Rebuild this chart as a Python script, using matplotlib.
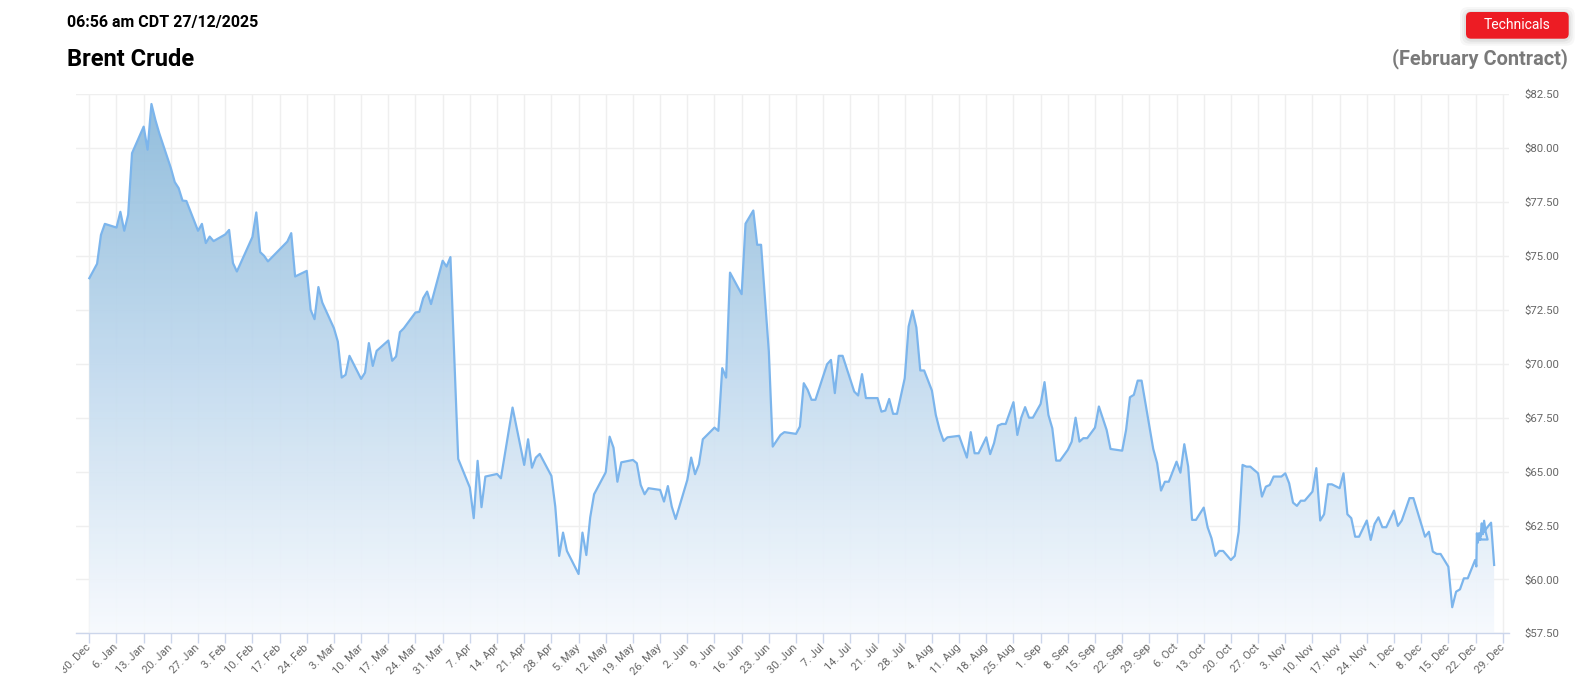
import numpy as np
import pandas as pd
import matplotlib
matplotlib.use("Agg")
import matplotlib.pyplot as plt
import matplotlib.dates as mdates
from matplotlib.patches import FancyBboxPatch, Polygon
from matplotlib.colors import LinearSegmentedColormap
from matplotlib.transforms import IdentityTransform, Bbox

plt.rcParams['font.family'] = ['Roboto', 'DejaVu Sans']

# Brent crude, February contract
dates = [
    "2024-12-30", "2025-01-01", "2025-01-02", "2025-01-03", "2025-01-06", "2025-01-07",
    "2025-01-08", "2025-01-09", "2025-01-10", "2025-01-13", "2025-01-14", "2025-01-15",
    "2025-01-16", "2025-01-17", "2025-01-20", "2025-01-21", "2025-01-22", "2025-01-23",
    "2025-01-24", "2025-01-27", "2025-01-28", "2025-01-29", "2025-01-30", "2025-01-31",
    "2025-02-03", "2025-02-04", "2025-02-05", "2025-02-06", "2025-02-10", "2025-02-11",
    "2025-02-12", "2025-02-13", "2025-02-14", "2025-02-19", "2025-02-20", "2025-02-21",
    "2025-02-24", "2025-02-25", "2025-02-26", "2025-02-27", "2025-02-28", "2025-03-03",
    "2025-03-04", "2025-03-05", "2025-03-06", "2025-03-07", "2025-03-10", "2025-03-11",
    "2025-03-12", "2025-03-13", "2025-03-14", "2025-03-17", "2025-03-18", "2025-03-19",
    "2025-03-20", "2025-03-21", "2025-03-24", "2025-03-25", "2025-03-26", "2025-03-27",
    "2025-03-28", "2025-03-31", "2025-04-01", "2025-04-02", "2025-04-04", "2025-04-07",
    "2025-04-08", "2025-04-09", "2025-04-10", "2025-04-11", "2025-04-14", "2025-04-15",
    "2025-04-18", "2025-04-21", "2025-04-22", "2025-04-23", "2025-04-24", "2025-04-25",
    "2025-04-28", "2025-04-29", "2025-04-30", "2025-05-01", "2025-05-02", "2025-05-05",
    "2025-05-06", "2025-05-07", "2025-05-08", "2025-05-09", "2025-05-12", "2025-05-13",
    "2025-05-14", "2025-05-15", "2025-05-16", "2025-05-19", "2025-05-20", "2025-05-21",
    "2025-05-22", "2025-05-23", "2025-05-26", "2025-05-27", "2025-05-28", "2025-05-29",
    "2025-05-30", "2025-06-02", "2025-06-03", "2025-06-04", "2025-06-05", "2025-06-06",
    "2025-06-09", "2025-06-10", "2025-06-11", "2025-06-12", "2025-06-13", "2025-06-16",
    "2025-06-17", "2025-06-19", "2025-06-20", "2025-06-21", "2025-06-23", "2025-06-24",
    "2025-06-26", "2025-06-27", "2025-06-30", "2025-07-01", "2025-07-02", "2025-07-03",
    "2025-07-04", "2025-07-05", "2025-07-08", "2025-07-09", "2025-07-10", "2025-07-11",
    "2025-07-12", "2025-07-15", "2025-07-16", "2025-07-17", "2025-07-18", "2025-07-21",
    "2025-07-22", "2025-07-23", "2025-07-24", "2025-07-25", "2025-07-26", "2025-07-28",
    "2025-07-29", "2025-07-30", "2025-07-31", "2025-08-01", "2025-08-02", "2025-08-04",
    "2025-08-05", "2025-08-06", "2025-08-07", "2025-08-08", "2025-08-11", "2025-08-13",
    "2025-08-14", "2025-08-15", "2025-08-16", "2025-08-18", "2025-08-19", "2025-08-20",
    "2025-08-21", "2025-08-22", "2025-08-23", "2025-08-25", "2025-08-26", "2025-08-27",
    "2025-08-28", "2025-08-29", "2025-08-30", "2025-09-01", "2025-09-02", "2025-09-03",
    "2025-09-04", "2025-09-05", "2025-09-06", "2025-09-08", "2025-09-09", "2025-09-10",
    "2025-09-11", "2025-09-12", "2025-09-13", "2025-09-15", "2025-09-16", "2025-09-18",
    "2025-09-19", "2025-09-22", "2025-09-23", "2025-09-24", "2025-09-25", "2025-09-26",
    "2025-09-27", "2025-09-30", "2025-10-01", "2025-10-02", "2025-10-03", "2025-10-04",
    "2025-10-06", "2025-10-07", "2025-10-08", "2025-10-09", "2025-10-10", "2025-10-11",
    "2025-10-13", "2025-10-14", "2025-10-15", "2025-10-16", "2025-10-17", "2025-10-18",
    "2025-10-20", "2025-10-21", "2025-10-22", "2025-10-23", "2025-10-24", "2025-10-25",
    "2025-10-27", "2025-10-28", "2025-10-29", "2025-10-30", "2025-10-31", "2025-11-02",
    "2025-11-03", "2025-11-04", "2025-11-05", "2025-11-06", "2025-11-07", "2025-11-08",
    "2025-11-10", "2025-11-11", "2025-11-12", "2025-11-13", "2025-11-14", "2025-11-15",
    "2025-11-17", "2025-11-18", "2025-11-19", "2025-11-20", "2025-11-21", "2025-11-22",
    "2025-11-24", "2025-11-25", "2025-11-26", "2025-11-27", "2025-11-28", "2025-11-29",
    "2025-12-01", "2025-12-02", "2025-12-03", "2025-12-05", "2025-12-06", "2025-12-09",
    "2025-12-10", "2025-12-11", "2025-12-12", "2025-12-13", "2025-12-15", "2025-12-16",
    "2025-12-17", "2025-12-18", "2025-12-19", "2025-12-20",
    "2025-12-21 21:30", "2025-12-22 05:00", "2025-12-22 08:30", "2025-12-22 14:00",
    "2025-12-22 21:30", "2025-12-23 05:00", "2025-12-23 14:30", "2025-12-23 21:30",
    "2025-12-24 05:00", "2025-12-24 14:30", "2025-12-25 02:30", "2025-12-22 12:00",
    "2025-12-26 00:00", "2025-12-26 19:00",
]
prices = [
    73.97, 74.64, 75.98, 76.49, 76.32, 77.05,
    76.17, 76.91, 79.77, 81.00, 79.93, 82.05,
    81.32, 80.70, 79.08, 78.43, 78.15, 77.57,
    77.55, 76.17, 76.49, 75.60, 75.90, 75.69,
    76.00, 76.21, 74.67, 74.28, 75.88, 77.02,
    75.18, 75.01, 74.75, 75.67, 76.06, 74.05,
    74.31, 72.50, 72.07, 73.56, 72.84, 71.65,
    71.03, 69.36, 69.49, 70.37, 69.30, 69.59,
    70.96, 69.90, 70.60, 71.08, 70.14, 70.34,
    71.47, 71.65, 72.38, 72.41, 73.05, 73.35,
    72.77, 74.78, 74.51, 74.95, 65.59, 64.26,
    62.84, 65.50, 63.35, 64.77, 64.89, 64.69,
    67.97, 65.31, 66.50, 65.18, 65.65, 65.82,
    64.80, 63.38, 61.09, 62.17, 61.32, 60.25,
    62.17, 61.13, 62.88, 63.95, 64.97, 66.62,
    66.11, 64.53, 65.43, 65.54, 65.39, 64.38,
    63.95, 64.23, 64.15, 63.61, 64.33, 63.38,
    62.80, 64.61, 65.65, 64.88, 65.34, 66.50,
    67.04, 66.89, 69.80, 69.36, 74.23, 73.23,
    76.50, 77.11, 75.52, 75.52, 70.57, 66.16,
    66.70, 66.83, 66.75, 67.09, 69.10, 68.79,
    68.33, 68.33, 69.98, 70.18, 68.64, 70.37,
    70.37, 68.71, 68.53, 69.52, 68.41, 68.41,
    67.78, 67.83, 68.37, 67.68, 67.68, 69.33,
    71.73, 72.47, 71.68, 69.69, 69.69, 68.76,
    67.63, 66.93, 66.42, 66.59, 66.66, 65.65,
    66.83, 65.85, 65.85, 66.59, 65.81, 66.32,
    67.13, 67.21, 67.21, 68.22, 66.70, 67.50,
    67.99, 67.50, 67.50, 68.14, 69.15, 67.63,
    67.01, 65.51, 65.51, 66.01, 66.39, 67.50,
    66.39, 66.55, 66.55, 67.04, 68.02, 66.93,
    66.05, 65.97, 66.93, 68.45, 68.56, 69.22,
    69.22, 66.05, 65.39, 64.12, 64.53, 64.53,
    65.46, 64.95, 66.27, 65.23, 62.76, 62.76,
    63.33, 62.42, 61.91, 61.09, 61.32, 61.32,
    60.90, 61.09, 62.21, 65.31, 65.23, 65.23,
    64.92, 63.84, 64.30, 64.38, 64.77, 64.77,
    64.92, 64.46, 63.56, 63.41, 63.65, 63.65,
    64.07, 65.16, 62.73, 63.02, 64.41, 64.41,
    64.23, 64.92, 63.02, 62.84, 61.98, 61.98,
    62.73, 61.83, 62.57, 62.88, 62.42, 62.42,
    63.19, 62.48, 62.73, 63.77, 63.77, 61.98,
    62.21, 61.29, 61.18, 61.18, 60.59, 58.71,
    59.43, 59.54, 60.05, 60.05,
    60.90, 60.60, 62.14, 61.70,
    62.14, 61.85, 62.60, 62.10,
    62.72, 62.20, 61.85, 61.85,
    62.63, 60.67,
]

week_ticks = pd.date_range("2024-12-30", "2025-12-29", freq="7D")
price_ticks = np.arange(57.5, 82.51, 2.5)

W, H = 1581, 678
fig = plt.figure(figsize=(W / 100, H / 100), dpi=100)
ax = fig.add_axes([76 / W, 1 - 633.3 / H, (1509 - 76) / W, (633.3 - 94.3) / H])

x = mdates.date2num(pd.to_datetime(dates, format="mixed"))
t0 = mdates.date2num(week_ticks[0])
t1 = mdates.date2num(week_ticks[-1])
x_lo, x_hi = t0 - 3.43, t1 + 1.62
y_lo, y_hi = price_ticks[0], price_ticks[-1]
ax.set_xlim(x_lo, x_hi)
ax.set_ylim(y_lo, y_hi)

# grid (sits under the slightly see-through fill)
for v in mdates.date2num(week_ticks):
    ax.axvline(v, color="#efefef", lw=1, zorder=0.5)
for p in price_ticks:
    ax.axhline(p, color="#efefef", lw=1, zorder=0.5)

# gradient fill under the line
cmap = LinearSegmentedColormap.from_list(
    "fill", [(0.0, "#8ab9da"), (0.5, "#c0d9ee"), (1.0, "#f7fafe")])
grad = np.linspace(0, 1, 256)[:, None]
im = ax.imshow(grad, extent=[x_lo, x_hi, y_lo, y_hi], aspect="auto", alpha=0.93,
               cmap=cmap, origin="upper", zorder=1, interpolation="bilinear")
pts = np.column_stack([np.r_[x, x[-1], x[0]], np.r_[prices, y_lo, y_lo]])
poly = Polygon(pts, closed=True, facecolor="none", edgecolor="none")
ax.add_patch(poly)
im.set_clip_path(poly)

ax.plot(x, prices, color="#7cb5ec", lw=1.6, zorder=4, solid_joinstyle="round")

for s in ["top", "left", "right"]:
    ax.spines[s].set_visible(False)
ax.spines["bottom"].set_color("#ccd6eb")
ax.spines["bottom"].set_linewidth(1)
ax.spines["bottom"].set_zorder(5)

ax.set_xticks(mdates.date2num(week_ticks))
ax.set_xticklabels([f"{d.day}. {d.strftime('%b')}" for d in week_ticks])
ax.tick_params(axis="x", length=7, width=1, color="#ccd6eb", labelcolor="#666666",
               labelsize=8, pad=2)
# the chart container cuts the first label at its left edge
label_clip = Bbox.from_extents(63, 0, W, H)
for lbl in ax.get_xticklabels():
    lbl.set_rotation(45)
    lbl.set_ha("right")
    lbl.set_va("center")
    lbl.set_rotation_mode("anchor")
    lbl.set_clip_box(label_clip)
    lbl.set_clip_on(True)

ax.yaxis.tick_right()
ax.set_yticks(price_ticks)
ax.set_yticklabels([f"${p:.2f}" for p in price_ticks])
ax.tick_params(axis="y", length=0, labelcolor="#666666", labelsize=8.2, pad=11)

# header
fig.text(66.7 / W, 1 - 23 / H, "06:56 am CDT 27/12/2025", fontsize=11.5,
         fontweight="bold", va="center", ha="left")
fig.text(66.7 / W, 1 - 59.5 / H, "Brent Crude", fontsize=17,
         fontweight="bold", va="center", ha="left")
fig.text(1568 / W, 1 - 58.5 / H, "(February Contract)", fontsize=14.4,
         fontweight="bold", color="#7a7a7a", va="center", ha="right")

# "Technicals" button
bx, by, bw, bh = 1466, H - 38.7, 102.7, 26.7
for k, a in [(6, 0.03), (4, 0.04), (2, 0.05)]:
    fig.patches.append(FancyBboxPatch((bx - k, by - k - 1), bw + 2 * k, bh + 2 * k,
                                      boxstyle="round,pad=0,rounding_size=8",
                                      transform=IdentityTransform(),
                                      facecolor=(0, 0, 0, a), edgecolor="none"))
fig.patches.append(FancyBboxPatch((bx, by), bw, bh,
                                  boxstyle="round,pad=0,rounding_size=5",
                                  transform=IdentityTransform(),
                                  facecolor="#ed1c24", edgecolor="none"))
fig.text(1517.3 / W, 1 - 25.3 / H, "Technicals", fontsize=10, color="white",
         va="center", ha="center")

fig.savefig("out.png", dpi=100)
